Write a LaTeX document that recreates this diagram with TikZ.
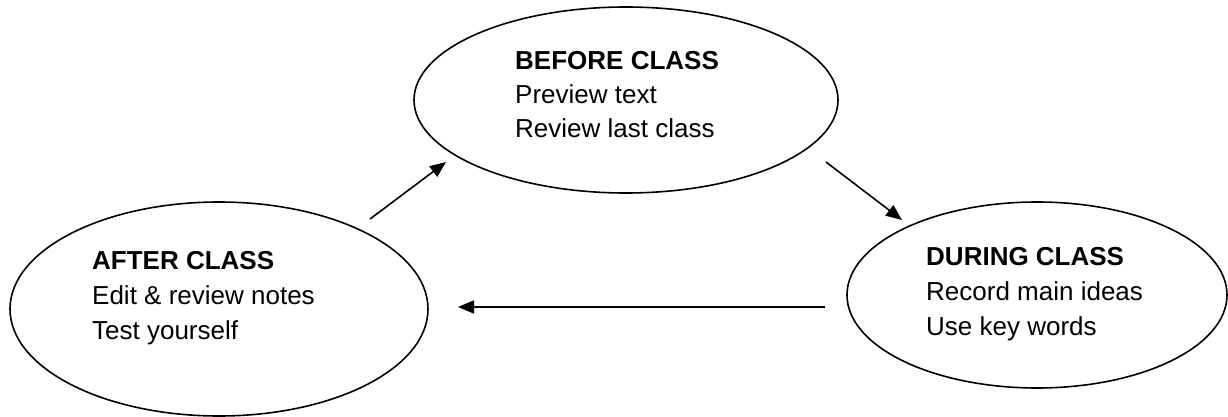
\documentclass[tikz,border=0pt]{standalone}
\usepackage{fontspec}
\setmainfont{Liberation Sans}
\usetikzlibrary{shapes.geometric,arrows.meta}
\begin{document}
\begin{tikzpicture}[x=1pt,y=-1pt,
  oval/.style={draw, ellipse, line width=1.6pt, inner sep=0pt},
  txt/.style={anchor=base west, inner sep=0pt, font=\fontsize{26}{34}\selectfont},
  head/.style={txt, font=\fontsize{26}{34}\selectfont\bfseries},
  conn/.style={line width=1.6pt, -{Triangle[length=16pt,width=13pt]}}]
\useasboundingbox (0,0) rectangle (1228,417);
\node[oval, minimum width=424pt, minimum height=186pt] (before) at (626,100) {};
\node[oval, minimum width=418pt, minimum height=214pt] (after) at (219,309) {};
\node[oval, minimum width=380pt, minimum height=186pt] (during) at (1037,295) {};
% texts
\node[head] (b1) at (515,70) {BEFORE CLASS};
\node[txt] (b2) at (515,104) {Preview text};
\node[txt] (b3) at (515,138) {Review last class};
\node[head] (a1) at (92,269) {AFTER CLASS};
\node[txt] (a2) at (92,304) {Edit \& review notes};
\node[txt] (a3) at (92,339) {Test yourself};
\node[head] (d1) at (926,265) {DURING CLASS};
\node[txt] (d2) at (926,300) {Record main ideas};
\node[txt] (d3) at (926,335) {Use key words};
% connector ends
\coordinate (s1) at (370,219);
\coordinate (e1) at (446,162);
\coordinate (s2) at (826,162);
\coordinate (e2) at (902,220);
\coordinate (s3) at (825,307);
\coordinate (e3) at (458,307);
\draw[conn] (s1) -- (e1);
\draw[conn] (s2) -- (e2);
\draw[conn] (s3) -- (e3);
\end{tikzpicture}
\end{document}
